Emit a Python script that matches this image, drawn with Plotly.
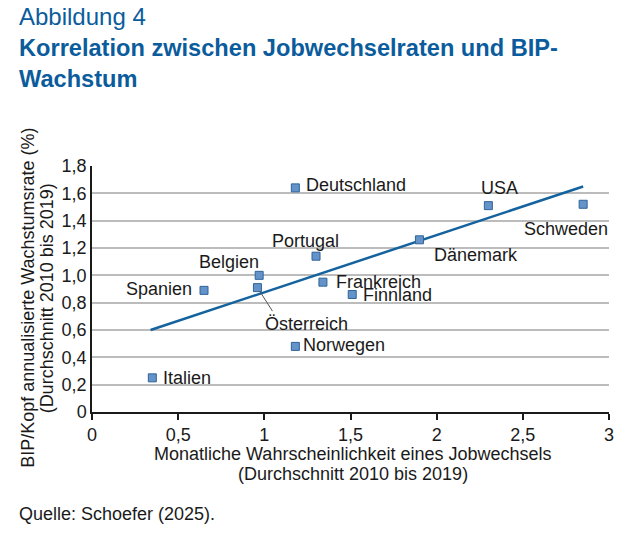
import plotly.graph_objects as go

countries = ["Deutschland", "Portugal", "Belgien", "Österreich", "Spanien", "Frankreich",
             "Finnland", "Norwegen", "Italien", "Dänemark", "USA", "Schweden"]
job_switch = [1.18, 1.30, 0.97, 0.96, 0.65, 1.34, 1.51, 1.18, 0.35, 1.90, 2.30, 2.85]
gdp_growth = [1.64, 1.14, 1.00, 0.91, 0.89, 0.95, 0.86, 0.48, 0.25, 1.26, 1.51, 1.52]

trend_x = [0.34, 2.85]
trend_y = [0.60, 1.65]

x_tickvals = [0, 0.5, 1, 1.5, 2, 2.5, 3]
x_ticktext = ["0", "0,5", "1", "1,5", "2", "2,5", "3"]
y_tickvals = [0, 0.2, 0.4, 0.6, 0.8, 1.0, 1.2, 1.4, 1.6, 1.8]
y_ticktext = ["0", "0,2", "0,4", "0,6", "0,8", "1,0", "1,2", "1,4", "1,6", "1,8"]

# label placement: (xanchor, xshift, yshift) in pixels
label_pos = {
    "Deutschland": ("left", 9, 3),
    "Portugal": ("center", -11, 15),
    "Belgien": ("center", -30, 13),
    "Österreich": ("center", 49, -36),
    "Spanien": ("right", -10, 1),
    "Frankreich": ("left", 11, 0),
    "Finnland": ("left", 9, -1),
    "Norwegen": ("left", 6, 1),
    "Italien": ("left", 9, 0),
    "Dänemark": ("center", 57, -15),
    "USA": ("center", 11, 18),
    "Schweden": ("center", -17, -25),
}

FONT = "Liberation Sans, Arial, sans-serif"
BLUE = "#0b5c9c"
TXT = "#1a1a1a"

fig = go.Figure()

fig.add_trace(
    go.Scatter(
        x=trend_x,
        y=trend_y,
        mode="lines",
        line=dict(color="#14639e", width=2.5),
        hoverinfo="skip",
    )
)
fig.add_trace(
    go.Scatter(
        x=job_switch,
        y=gdp_growth,
        mode="markers",
        text=countries,
        marker=dict(symbol="square", size=8, color="#6393c9",
                    line=dict(color="#2f6398", width=1)),
    )
)

annotations = []
for name, xv, yv in zip(countries, job_switch, gdp_growth):
    anchor, dx, dy = label_pos[name]
    annotations.append(
        dict(x=xv, y=yv, xref="x", yref="y", text=name, showarrow=False,
             xanchor=anchor, yanchor="middle", xshift=dx, yshift=dy,
             font=dict(family=FONT, size=18, color=TXT))
    )

# leader line for Österreich
i_at = countries.index("Österreich")
annotations.append(
    dict(x=job_switch[i_at], y=gdp_growth[i_at], xref="x", yref="y", text="",
         showarrow=True, arrowhead=0, arrowwidth=1, arrowcolor="#555555",
         ax=16, ay=25, standoff=4, font=dict(size=1))
)

# titles, axis titles, source
annotations += [
    dict(xref="paper", yref="paper", x=-0.145, y=1.6085, xanchor="left", yanchor="middle",
         text="Abbildung 4", showarrow=False, font=dict(family=FONT, size=24, color=BLUE)),
    dict(xref="paper", yref="paper", x=-0.145, y=1.4175, xanchor="left", yanchor="middle",
         align="left", text="<b>Korrelation zwischen Jobwechselraten und BIP-<br>Wachstum</b>",
         showarrow=False, font=dict(family=FONT, size=23.6, color=BLUE)),
    dict(xref="paper", yref="paper", x=0.505, y=-0.17, xanchor="center", yanchor="middle",
         text="Monatliche Wahrscheinlichkeit eines Jobwechsels", showarrow=False,
         font=dict(family=FONT, size=18, color=TXT)),
    dict(xref="paper", yref="paper", x=0.505, y=-0.25, xanchor="center", yanchor="middle",
         text="(Durchschnitt 2010 bis 2019)", showarrow=False,
         font=dict(family=FONT, size=18, color=TXT)),
    dict(xref="paper", yref="paper", x=-0.1228, y=0.462, xanchor="center", yanchor="middle",
         text="BIP/Kopf annualisierte Wachstumsrate (%)", textangle=-90, showarrow=False,
         font=dict(family=FONT, size=18, color=TXT)),
    dict(xref="paper", yref="paper", x=-0.087, y=0.462, xanchor="center", yanchor="middle",
         text="(Durchschnitt 2010 bis 2019)", textangle=-90, showarrow=False,
         font=dict(family=FONT, size=18, color=TXT)),
    dict(xref="paper", yref="paper", x=-0.145, y=-0.416, xanchor="left", yanchor="middle",
         text="Quelle: Schoefer (2025).", showarrow=False,
         font=dict(family=FONT, size=18, color=TXT)),
]

# the page adds an 8px body margin, so the figure is 8px smaller and margins shifted
fig.update_layout(
    width=625,
    height=530,
    margin=dict(l=84, r=24, t=158, b=126),
    paper_bgcolor="white",
    plot_bgcolor="white",
    showlegend=False,
    font=dict(family=FONT, size=18, color=TXT),
    xaxis=dict(
        range=[0, 3],
        tickvals=x_tickvals,
        ticktext=x_ticktext,
        showgrid=False,
        zeroline=False,
        showline=True,
        linecolor="#1a1a1a",
        linewidth=1.5,
        ticks="outside",
        ticklen=6,
        tickcolor="#1a1a1a",
        tickwidth=1.5,
        tickfont=dict(family=FONT, size=18, color=TXT),
    ),
    yaxis=dict(
        range=[0, 1.8],
        tickvals=y_tickvals,
        ticktext=y_ticktext,
        showgrid=True,
        gridcolor="#bcbcbc",
        gridwidth=1.5,
        zeroline=False,
        showline=True,
        linecolor="#1a1a1a",
        linewidth=1.5,
        ticks="",
        tickfont=dict(family=FONT, size=18, color=TXT),
    ),
    annotations=annotations,
)

fig.write_html("out.html")
